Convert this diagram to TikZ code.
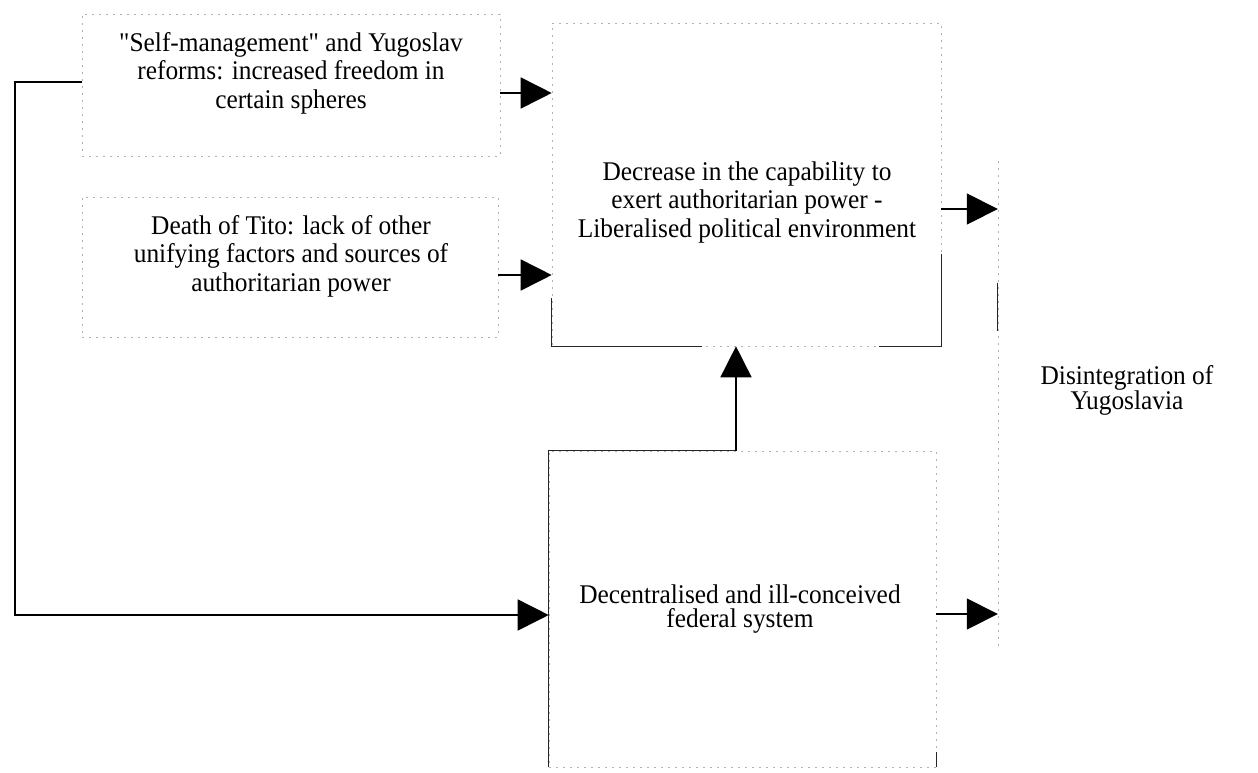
\documentclass[tikz,border=0pt]{standalone}
\usepackage{fontspec}
\setmainfont[FakeStretch=0.94, Ligatures=TeXOff]{Liberation Serif}
\usetikzlibrary{arrows.meta}
\begin{document}
\begin{tikzpicture}[x=1pt,y=-1pt,
  lbl/.style={align=center, inner sep=0pt, font=\fontsize{27}{28.5}\selectfont},
  frame/.style={draw=black!30, line width=0.6pt, dash pattern=on 2pt off 5pt, inner sep=0pt},
  hidden/.style={draw=none, inner sep=0pt},
  edge/.style={draw=black!85, line width=0.8pt},
  wire/.style={line width=1.6pt, black},
  arr/.style={wire, -{Triangle[length=31pt,width=31pt]}},
]
\fill[white] (0,0) rectangle (1258,772);
\useasboundingbox (0,0) rectangle (1258,772);

% boxes
\node[frame, minimum width=418pt, minimum height=142pt] (b1) at (291,85) {};
\node[frame, minimum width=416pt, minimum height=140pt] (b2) at (290,267) {};
\node[frame, minimum width=389pt, minimum height=323pt] (b3) at (746.5,184.5) {};
\node[frame, minimum width=387pt, minimum height=316pt] (b4) at (742.5,609) {};
\node[hidden, minimum width=258pt, minimum height=753pt] (b5) at (1127,390.5) {};

% labels
\node[lbl] (t1) at (291,73) {"Self-management" and Yugoslav\\reforms: increased freedom in\\certain spheres};
\node[lbl] (t2) at (291,256) {Death of Tito: lack of other\\unifying factors and sources of\\authoritarian power};
\node[lbl] (t3) at (747,202) {Decrease in the capability to\\exert authoritarian power -\\Liberalised political environment};
\node[lbl, font=\fontsize{27}{24.5}\selectfont] (t4) at (740,609) {Decentralised and ill-conceived\\federal system};
\node[lbl, font=\fontsize{27}{25}\selectfont] (t5) at (1127,390) {Disintegration of\\Yugoslavia};

% darker parts of the box outlines
\draw[frame] ([yshift=230pt]b5.west) -- ([yshift=-260pt]b5.west);
\draw[edge] ([yshift=108pt]b5.west) -- ([yshift=60pt]b5.west);
\draw[edge] ([yshift=48pt]b3.south west) -- (b3.south west) -- ([xshift=150pt]b3.south west);
\draw[edge] ([yshift=92pt]b3.south east) -- (b3.south east) -- ([xshift=-62pt]b3.south east);
\coordinate (u1) at ([xshift=-6.5pt]b4.north);
\draw[edge] (b4.south west) -- (b4.north west) -- (u1);
\draw[edge] (b4.south east) -- ([yshift=15pt]b4.south east);

% connectors
\coordinate (bend1) at (15,82);
\coordinate (bend2) at (15,615);
\draw[arr] (b1.west |- bend1) -- (bend1) -- (bend2) -- (b4.west |- bend2);

\coordinate (a1) at ([yshift=-8pt]b1.east);
\draw[arr] (a1) -- (a1 -| b3.west);
\coordinate (a2) at ([yshift=-8pt]b2.east);
\draw[arr] (a2) -- (a2 -| b3.west);
\coordinate (a3) at ([yshift=-24.5pt]b3.east);
\draw[arr] (a3) -- (a3 -| b5.west);
\coordinate (a4) at ([yshift=-5pt]b4.east);
\draw[arr] (a4) -- (a4 -| b5.west);
\draw[arr] (u1) -- (u1 |- b3.south);
\end{tikzpicture}
\end{document}
